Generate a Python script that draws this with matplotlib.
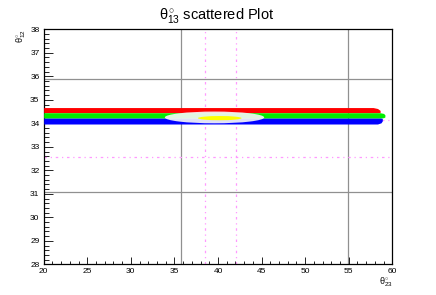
import matplotlib
matplotlib.use("Agg")
import matplotlib.pyplot as plt
from matplotlib.patches import Ellipse
from matplotlib.ticker import MultipleLocator

plt.rcParams['font.family'] = ['Liberation Sans', 'DejaVu Sans']
plt.rcParams['mathtext.fontset'] = 'custom'
plt.rcParams['mathtext.rm'] = 'Liberation Sans'
plt.rcParams['mathtext.it'] = 'Liberation Sans'

# ---- data ----
title = r"$\theta_{13}^{\circ}$ scattered Plot"
xlabel = r"$\theta_{23}^{\circ}$"
ylabel = r"$\theta_{12}^{\circ}$"
x_range = [20, 60]
y_range = [28, 38]

# coloured scatter bands (x extent, upper edge, lower edge)
red_x = [20, 57.8, 58.3, 58.6]
red_hi = [34.67, 34.67, 34.63, 34.55]
red_lo = [34.45, 34.45, 34.45, 34.46]

green_x = [20, 58.6, 59.0, 59.15]
green_hi = [34.45, 34.45, 34.42, 34.36]
green_lo = [34.22, 34.22, 34.24, 34.27]

blue_x = [20, 58.3, 58.7, 58.85]
blue_hi = [34.22, 34.22, 34.22, 34.21]
blue_lo = [33.97, 33.97, 34.02, 34.10]

# central regions (centre x, centre y, width, height)
white_region = [39.6, 34.25, 11.4, 0.50]
yellow_region = [40.2, 34.22, 5.0, 0.18]

# reference lines
gray_vlines = [35.72, 54.95]
gray_hlines = [35.90, 31.06]
magenta_vlines = [38.50, 42.12]
magenta_hlines = [32.58, 34.12]

fig = plt.figure(figsize=(4.36, 2.95), dpi=100)
ax = fig.add_axes([0.1002, 0.104, 0.7996, 0.7967])

for xv in gray_vlines:
    ax.axvline(xv, color='#909090', lw=0.9, zorder=1)
for yv in gray_hlines:
    ax.axhline(yv, color='#909090', lw=0.9, zorder=1)
for xv in magenta_vlines:
    ax.axvline(xv, color='#ff99ff', lw=0.9, ls=(0, (2, 3, 1, 3)), zorder=2)
for yv in magenta_hlines:
    ax.axhline(yv, color='#ff99ff', lw=0.9, ls=(0, (2, 3, 1, 3)), zorder=2)

ax.fill_between(red_x, red_lo, red_hi, color='#ff0000', lw=0, zorder=3)
ax.fill_between(green_x, green_lo, green_hi, color='#00ee00', lw=0, zorder=3)
ax.fill_between(blue_x, blue_lo, blue_hi, color='#0000ff', lw=0, zorder=3)

ax.add_patch(Ellipse((white_region[0], white_region[1]), white_region[2], white_region[3],
                     facecolor='#f6f6f6', edgecolor='none', alpha=0.92, zorder=4))
ax.add_patch(Ellipse((yellow_region[0], yellow_region[1]), yellow_region[2], yellow_region[3],
                     facecolor='#ffff00', edgecolor='none', zorder=5))

ax.set_xlim(*x_range)
ax.set_ylim(*y_range)
ax.xaxis.set_major_locator(MultipleLocator(5))
ax.xaxis.set_minor_locator(MultipleLocator(1))
ax.yaxis.set_major_locator(MultipleLocator(1))
ax.yaxis.set_minor_locator(MultipleLocator(0.2))
ax.tick_params(axis='x', which='major', direction='in', length=5, width=0.6,
               labelsize=6, pad=3, top=False)
ax.tick_params(axis='x', which='minor', direction='in', length=2.5, width=0.6, top=False)
ax.tick_params(axis='y', which='major', direction='in', length=6.5, width=0.6,
               labelsize=6, pad=3, right=False)
ax.tick_params(axis='y', which='minor', direction='in', length=3.3, width=0.6, right=False)
for s in ax.spines.values():
    s.set_linewidth(0.9)
    s.set_color('black')

fig.text(0.498, 0.935, title, ha='center', va='baseline', fontsize=10.5)
fig.text(0.9, 0.035, xlabel, ha='right', va='baseline', fontsize=6.5)
fig.text(0.048, 0.90, ylabel, ha='center', va='top', rotation=90, fontsize=6.5)

fig.savefig('out.png', dpi=100)
